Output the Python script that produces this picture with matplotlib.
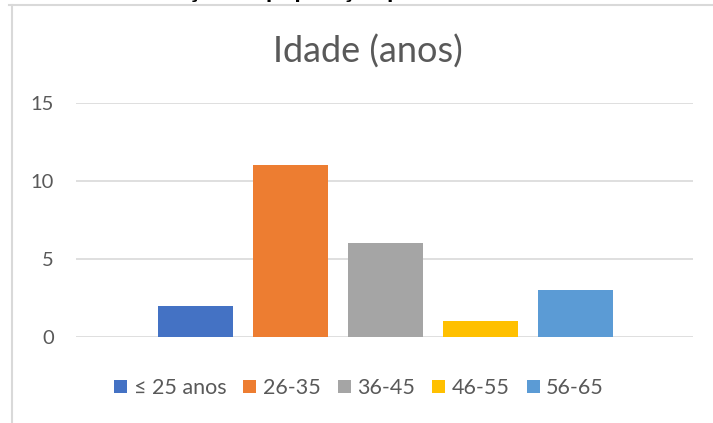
import matplotlib
matplotlib.use('Agg')
import matplotlib.pyplot as plt
import numpy as np
from matplotlib.patches import Patch
from matplotlib.lines import Line2D

# data
series = ['≤ 25 anos', '26-35', '36-45', '46-55', '56-65']
values = [2, 11, 6, 1, 3]
colors = ['#4472c4', '#ed7d31', '#a5a5a5', '#ffc000', '#5b9bd5']
yticks = [0, 5, 10, 15]
title = 'Idade (anos)'

plt.rcParams['font.family'] = ['Lato', 'DejaVu Sans']

W, H = 713, 423
fig = plt.figure(figsize=(W / 100, H / 100), dpi=100)

# plot area in pixel coords
x0, x1, y0, y1 = 76, 693, 337, 103
ax = fig.add_axes([x0 / W, (H - y0) / H, (x1 - x0) / W, (y0 - y1) / H])

step, bw = 95.0, 75.0
pos = np.arange(len(values))
ax.bar(pos, values, width=bw / step, color=colors, zorder=3)
ax.set_xlim((x0 - 195.5) / step, (x1 - 195.5) / step)
ax.set_ylim(0, 15)
ax.set_yticks(yticks)
ax.set_xticks([])
ax.tick_params(axis='y', length=0, labelsize=14.5, labelcolor='#595959', pad=16)
for s in ax.spines.values():
    s.set_visible(False)
ax.grid(axis='y', color='#d9d9d9', linewidth=1.2, zorder=0)

fig.text(368 / W, 1 - 52 / H, title, ha='center', va='center',
         fontsize=26, color='#595959')

# clipped title of the page above the chart
fig.text(91 / W, 1 + 2 / H, 'Distribuição da população por idade', ha='left',
         va='baseline', fontsize=18, fontweight='bold', color='black')

# chart border (left and top only visible)
fig.add_artist(Line2D([12 / W, 12 / W], [0, 1 - 5 / H], color='#d9d9d9', lw=1.5))
fig.add_artist(Line2D([9 / W, 1], [1 - 5 / H, 1 - 5 / H], color='#d9d9d9', lw=1.5))

handles = [Patch(facecolor=c, label=s) for c, s in zip(colors, series)]
fig.legend(handles=handles, loc='center', bbox_to_anchor=(359 / W, 1 - 388 / H),
           ncol=5, frameon=False, fontsize=15.5, labelcolor='#595959',
           handlelength=0.6, handleheight=0.6, handletextpad=0.3,
           columnspacing=0.8)

fig.savefig('out.png', dpi=100)
